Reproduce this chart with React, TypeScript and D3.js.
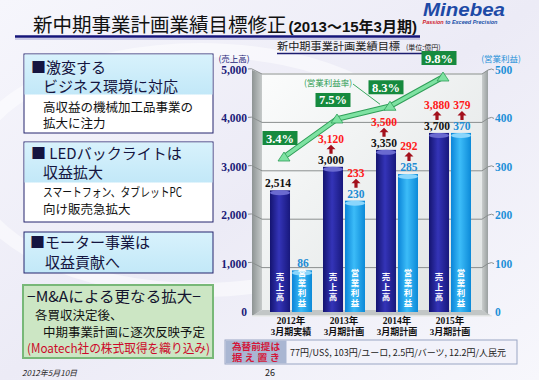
import React from "react";
import * as d3 from "d3";

const years = ["2012年", "2013年", "2014年", "2015年"];
const periods = ["3月期実績", "3月期計画", "3月期計画", "3月期計画"];
const sales = [2514, 3000, 3350, 3700];
const profit = [86, 230, 285, 370];
const salesRevised: (number | null)[] = [null, 3120, 3500, 3880];
const profitRevised: (number | null)[] = [null, 233, 292, 379];
const margin = [3.4, 7.5, 8.3, 9.8];
const leftTicks = [0, 1000, 2000, 3000, 4000, 5000];
const rightTicks = [0, 100, 200, 300, 400, 500];
const seriesKeys = ["sales", "profit"];
const seriesNames = ["売上高", "営業利益"];

const W = 539;
const H = 380;
const SERIF = "'Liberation Serif','Times New Roman','Noto Sans CJK JP',serif";
const SANS = "'Noto Sans CJK JP','Noto Sans',sans-serif";
const fmt = d3.format(",");

const yL = d3.scaleLinear().domain([0, 5000]).range([312, 70]);
const yR = d3.scaleLinear().domain([0, 500]).range([312, 70]);
const yM = d3.scalePow().exponent(2.5).domain([3.4, 9.8]).range([157, 77]);
const x = d3.scaleBand<string>().domain(years).range([264.5, 476.5]);
const xs = d3.scaleBand<string>().domain(seriesKeys).range([0, x.bandwidth()]).paddingInner(0.09).paddingOuter(0.25);

const WL = 252, WB = 262, WR = 482, WRR = 492;

function Arrow({ cx, base }: { cx: number; base: number }) {
  const tip = base - 9;
  const d = `M${cx},${tip} L${cx + 4.5},${tip + 4.5} L${cx + 1.6},${tip + 4.5} L${cx + 1.6},${base} L${cx - 1.6},${base} L${cx - 1.6},${tip + 4.5} L${cx - 4.5},${tip + 4.5} Z`;
  return <path d={d} fill="#a3101c" />;
}

export default function App() {
  const y0 = yL(0);
  const pts = margin.map((m, i) => [(x(years[i]) as number) + x.bandwidth() / 2 - 7, yM(m)] as [number, number]);
  const line = d3.line();
  return (
    <svg width={W} height={H} style={{ position: "absolute", left: 0, top: 0 }} xmlns="http://www.w3.org/2000/svg">
      <defs>
        <linearGradient id="bg" x1="0" y1="0" x2="1" y2="1">
          <stop offset="0" stopColor="#f6f6fc" />
          <stop offset="0.5" stopColor="#ecebf6" />
          <stop offset="1" stopColor="#f7f7fc" />
        </linearGradient>
        <linearGradient id="wall" x1="0" y1="0" x2="1" y2="1">
          <stop offset="0" stopColor="#fbfcfc" />
          <stop offset="1" stopColor="#dfe3e3" />
        </linearGradient>
        <linearGradient id="side" x1="0" y1="0" x2="1" y2="0">
          <stop offset="0" stopColor="#8e9494" />
          <stop offset="1" stopColor="#c6caca" />
        </linearGradient>
        <linearGradient id="sideR" x1="0" y1="0" x2="1" y2="0">
          <stop offset="0" stopColor="#c9cdcd" />
          <stop offset="1" stopColor="#9aa0a0" />
        </linearGradient>
        <linearGradient id="gSales" x1="0" y1="0" x2="1" y2="0">
          <stop offset="0" stopColor="#141470" />
          <stop offset="0.45" stopColor="#3434b8" />
          <stop offset="1" stopColor="#18187c" />
        </linearGradient>
        <linearGradient id="gProfit" x1="0" y1="0" x2="1" y2="0">
          <stop offset="0" stopColor="#0a84d8" />
          <stop offset="0.45" stopColor="#3cbcf8" />
          <stop offset="1" stopColor="#0c8ad8" />
        </linearGradient>
        <linearGradient id="hdr" x1="0" y1="0" x2="0" y2="1">
          <stop offset="0" stopColor="#d8f2fc" />
          <stop offset="1" stopColor="#c2e8f8" />
        </linearGradient>
      </defs>
      <rect width={W} height={H} fill="url(#bg)" />
      <ellipse cx={200} cy={170} rx={230} ry={120} fill="none" stroke="#ffffff" strokeWidth={14} opacity={0.5} />

      {/* Title */}
      <text x={33} y={32} fontFamily={SANS} fontSize={19.5} fill="#111">新中期事業計画業績目標修正<tspan dx={2} fontSize={15} fontWeight="bold" fontFamily="'Liberation Sans','Noto Sans CJK JP',sans-serif">(2013～15年3月期)</tspan></text>
      <line x1={15} x2={420} y1={36.5} y2={36.5} stroke="#15157a" strokeWidth={2.5} />
      <line x1={15} x2={420} y1={39} y2={39} stroke="#8f8fc8" strokeWidth={0.8} />
      <text x={464} y={15.5} textAnchor="middle" fontFamily="'Liberation Sans',Arial,sans-serif" fontStyle="italic" fontWeight="bold" fontSize={18} fill="#1d4aa6" textLength={82} lengthAdjust="spacingAndGlyphs">Minebea</text>
      <text x={460} y={23.5} textAnchor="middle" fontFamily="'Liberation Sans',Arial,sans-serif" fontStyle="italic" fontWeight="bold" fontSize={5.5}><tspan fill="#d0202a">Passion</tspan><tspan fill="#2050a8"> to Exceed Precision</tspan></text>

      {/* Left panels */}
      <rect x={24} y={54} width={189} height={79} fill="#ffffff" stroke="#24246e" />
      <rect x={24.5} y={54.5} width={188} height={40} fill="url(#hdr)" />
      <text x={31} y={73} fontFamily={SANS} fontSize={15} fill="#151540">■激変する</text>
      <text x={43} y={92} fontFamily={SANS} fontSize={15} fill="#151540">ビジネス環境に対応</text>
      <text x={43} y={112} fontFamily={SANS} fontSize={12.5} fill="#111">高収益の機械加工品事業の</text>
      <text x={43} y={128} fontFamily={SANS} fontSize={12.5} fill="#111">拡大に注力</text>

      <rect x={24} y={142} width={189} height={80} fill="#ffffff" stroke="#24246e" />
      <rect x={24.5} y={142.5} width={188} height={40} fill="url(#hdr)" />
      <text x={31} y={159} fontFamily={SANS} fontSize={15} fill="#151540">■ LEDバックライトは</text>
      <text x={43} y={178} fontFamily={SANS} fontSize={15} fill="#151540">収益拡大</text>
      <text x={43} y={197} fontFamily={SANS} fontSize={12.5} fill="#111" textLength={139} lengthAdjust="spacingAndGlyphs">スマートフォン、タブレットPC</text>
      <text x={43} y={214} fontFamily={SANS} fontSize={12.5} fill="#111">向け販売急拡大</text>

      <rect x={24} y={232} width={189} height={41} fill="url(#hdr)" stroke="#24246e" />
      <text x={30} y={248} fontFamily={SANS} fontSize={15} fill="#151540">■モーター事業は</text>
      <text x={45} y={268} fontFamily={SANS} fontSize={15} fill="#151540">収益貢献へ</text>

      <rect x={23} y={285} width={190} height={73} fill="#cce6c4" stroke="#78b878" strokeWidth={2} />
      <text x={27} y={302} fontFamily={SANS} fontSize={15} fill="#14142e" textLength={174} lengthAdjust="spacingAndGlyphs">−M&amp;Aによる更なる拡大−</text>
      <text x={35} y={320} fontFamily={SANS} fontSize={12.5} fill="#111">各買収決定後、</text>
      <text x={43} y={337} fontFamily={SANS} fontSize={12.5} fill="#111" textLength={162} lengthAdjust="spacingAndGlyphs">中期事業計画に逐次反映予定</text>
      <text x={27} y={353} fontFamily={SANS} fontSize={12.5} fill="#cc0a2a" textLength={183} lengthAdjust="spacingAndGlyphs">(Moatech社の株式取得を織り込み)</text>
      <text x={22} y={376} fontFamily={SANS} fontSize={8} fontStyle="italic" fill="#222">2012年5月10日</text>
      <text x={270} y={376} textAnchor="middle" fontFamily={SANS} fontSize={9} fill="#222">26</text>

      {/* Chart title */}
      <text x={277} y={50} fontFamily={SANS} fontSize={10.5} fill="#222" textLength={123} lengthAdjust="spacingAndGlyphs">新中期事業計画業績目標</text>
      <text x={406} y={50} fontFamily={SANS} fontSize={7} fill="#222">(単位:億円)</text>
      <line x1={277} x2={452} y1={53.5} y2={53.5} stroke="#1c1c70" strokeWidth={1.5} />
      <text x={234} y={62} textAnchor="middle" fontFamily={SANS} fontSize={8.5} fill="#1c1c78">(売上高)</text>
      <text x={501} y={62} textAnchor="middle" fontFamily={SANS} fontSize={8.5} fill="#1e90d8">(営業利益)</text>

      {/* 3D frame */}
      <polygon points={`${WL},${y0 + 4} ${WB},${y0 - 2} ${WR},${y0 - 2} ${WRR},${y0 + 4}`} fill="#c2c6c6" />
      <rect x={WB} y={yL(5000) + 3} width={WR - WB} height={y0 - 2 - (yL(5000) + 3)} fill="url(#wall)" />
      <polygon points={`${WL},${yL(5000)} ${WB},${yL(5000) + 4} ${WB},${y0 - 2} ${WL},${y0 + 4}`} fill="url(#side)" />
      <polygon points={`${WR},${yL(5000) + 4} ${WRR - 4},${yL(5000)} ${WRR - 4},${y0 + 2} ${WR},${y0 - 2}`} fill="url(#sideR)" />
      <line x1={WL} x2={WRR} y1={y0 + 4} y2={y0 + 4} stroke="#e8eaea" strokeWidth={1.5} />
      {leftTicks.filter((t) => t > 0).map((t) => (
        <g key={t}>
          <path d={`M${WL - 4},${yL(t) - 1} Q${WL},${yL(t) - 2} ${WL + 2},${yL(t)} L${WB},${yL(t) + 4} L${WR},${yL(t) + 4} L${WRR - 4},${yL(t)}`} fill="none" stroke="#8a8f8f" strokeWidth={1} />
          <path d={`M${WRR - 4},${yL(t)} Q${WRR},${yL(t) - 2} ${WRR + 2},${yL(t)}`} fill="none" stroke="#8a8f8f" strokeWidth={1} />
        </g>
      ))}

      {/* Axis labels */}
      {leftTicks.map((t) => (
        <text key={t} x={247} y={yL(t) + 4} textAnchor="end" fontFamily={SERIF} fontWeight="bold" fontSize={11.5} fill="#1c1c78">{fmt(t)}</text>
      ))}
      {rightTicks.map((t) => (
        <text key={t} x={495} y={yR(t) + 4} fontFamily={SERIF} fontWeight="bold" fontSize={11.5} fill="#1e90d8">{t}</text>
      ))}

      {/* Bars */}
      {years.map((yr, i) => {
        const gx = x(yr) as number;
        const sx = gx + (xs("sales") as number);
        const px = gx + (xs("profit") as number);
        const bw = xs.bandwidth();
        const sTop = yL(sales[i]);
        const pTop = yR(profit[i]);
        const scx = sx + bw / 2;
        const pcx = px + bw / 2;
        const slx = scx - 2;
        const plx = pcx + 1;
        return (
          <g key={yr}>
            <rect x={sx} y={sTop} width={bw} height={y0 - sTop} fill="url(#gSales)" />
            <ellipse cx={scx} cy={sTop + 2.5} rx={bw / 2} ry={2.5} fill="#6a6ad0" />
            <rect x={px} y={pTop} width={bw} height={y0 - pTop} fill="url(#gProfit)" />
            <ellipse cx={pcx} cy={pTop + 2.5} rx={bw / 2} ry={2.5} fill="#8ad6fc" />
            <text x={scx} y={y0 - 24} textAnchor="middle" writingMode="vertical-rl" fontFamily={SANS} fontWeight="bold" fontSize={8.5} fill="#ffffff" style={{ letterSpacing: "1.5px", writingMode: "vertical-rl" } as any}>{seriesNames[0]}</text>
            <text x={pcx} y={y0 - 23} textAnchor="middle" writingMode="vertical-rl" fontFamily={SANS} fontWeight="bold" fontSize={8.5} fill="#ffffff" style={{ letterSpacing: "1.5px", writingMode: "vertical-rl" } as any}>{seriesNames[1]}</text>
            <text x={slx} y={sTop - 3} textAnchor="middle" fontFamily={SERIF} fontWeight="bold" fontSize={11.5} fill="#111">{fmt(sales[i])}</text>
            <text x={plx} y={pTop - 3} textAnchor="middle" fontFamily={SERIF} fontWeight="bold" fontSize={11.5} fill="#1e8cd4">{profit[i]}</text>
            {salesRevised[i] != null && (
              <g>
                <Arrow cx={slx} base={sTop - 13} />
                <text x={slx} y={sTop - 24} textAnchor="middle" fontFamily={SERIF} fontWeight="bold" fontSize={11.5} fill="#ff1a1a">{fmt(salesRevised[i] as number)}</text>
              </g>
            )}
            {profitRevised[i] != null && (
              <g>
                <Arrow cx={plx} base={pTop - 13} />
                <text x={plx} y={pTop - 24} textAnchor="middle" fontFamily={SERIF} fontWeight="bold" fontSize={11.5} fill="#ff1a1a">{profitRevised[i]}</text>
              </g>
            )}
            <text x={gx + x.bandwidth() / 2} y={324} textAnchor="middle" fontFamily={SERIF} fontWeight="bold" fontSize={9.5} fill="#111">{yr}</text>
            <text x={gx + x.bandwidth() / 2} y={335} textAnchor="middle" fontFamily={SERIF} fontWeight="bold" fontSize={9} fill="#111">{periods[i]}</text>
          </g>
        );
      })}

      {/* Margin line */}
      <text x={328} y={86} textAnchor="middle" fontFamily={SANS} fontSize={8.5} fill="#2a9a50">(営業利益率)</text>
      <line x1={353} y1={84} x2={pts[2][0] - 10} y2={pts[2][1] - 2} stroke="#3aa860" strokeWidth={1} />
      <path d={line(pts) as string} fill="none" stroke="#2f9e58" strokeWidth={5.5} strokeLinejoin="round" />
      <path d={line(pts) as string} fill="none" stroke="#7ee2a2" strokeWidth={3.5} strokeLinejoin="round" />
      {pts.map(([px, py], i) => (
        <g key={i}>
          <path d={`M${px},${py - 5} L${px + 6},${py + 4} L${px - 6},${py + 4} Z`} fill="#7ee2a2" stroke="#2f9e58" strokeWidth={0.8} />
          <rect x={px - 4 - 17.5} y={py - 19 - 7} width={35} height={14} fill="#168a3e" />
          <text x={px - 4} y={py - 19 + 4.5} textAnchor="middle" fontFamily={SERIF} fontWeight="bold" fontSize={12.5} fill="#ffffff">{margin[i]}%</text>
        </g>
      ))}

      {/* FX box */}
      <rect x={225} y={340} width={292} height={24} fill="#f2f2fa" stroke="#9aa6c4" />
      <rect x={225.5} y={340.5} width={61} height={23} fill="#a9b6d2" />
      <text x={256} y={349.5} textAnchor="middle" fontFamily={SANS} fontWeight="bold" fontSize={9} fill="#d3183a" textLength={48} lengthAdjust="spacingAndGlyphs">為替前提は</text>
      <text x={256} y={361} textAnchor="middle" fontFamily={SANS} fontWeight="bold" fontSize={9} fill="#d3183a" textLength={48} lengthAdjust="spacingAndGlyphs">据 え 置 き</text>
      <text x={290} y={355.5} fontFamily={SANS} fontSize={9} fill="#222" textLength={216} lengthAdjust="spacingAndGlyphs">77円/US$, 103円/ユーロ, 2.5円/バーツ, 12.2円/人民元</text>
    </svg>
  );
}
